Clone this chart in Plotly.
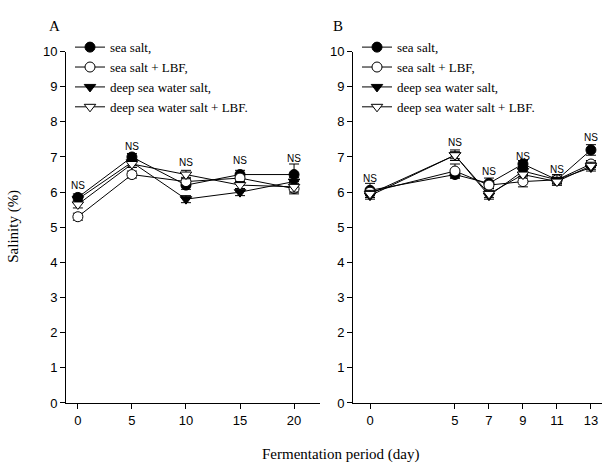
import plotly.graph_objects as go

# ---------------- data ----------------
days_a = [0, 5, 10, 15, 20]
days_b = [0, 5, 7, 9, 11, 13]
series_names = ["sea salt,", "sea salt + LBF,", "deep sea water salt,", "deep sea water salt + LBF."]

a_sea = [5.85, 7.0, 6.2, 6.5, 6.5]
a_sea_lbf = [5.3, 6.5, 6.3, 6.4, 6.1]
a_deep = [5.8, 6.85, 5.8, 6.0, 6.3]
a_deep_lbf = [5.65, 6.8, 6.5, 6.2, 6.15]
a_err_sea = [0.1, 0.1, 0.12, 0.12, 0.3]
a_err_sea_lbf = [0.1, 0.1, 0.12, 0.12, 0.15]
a_err_deep = [0.1, 0.1, 0.1, 0.1, 0.12]
a_err_deep_lbf = [0.1, 0.1, 0.12, 0.1, 0.15]

b_sea = [6.05, 6.5, 6.25, 6.8, 6.35, 7.2]
b_sea_lbf = [6.0, 6.6, 6.2, 6.3, 6.35, 6.8]
b_deep = [5.9, 7.05, 5.9, 6.6, 6.35, 6.7]
b_deep_lbf = [5.95, 7.05, 5.95, 6.5, 6.3, 6.75]
b_err_sea = [0.2, 0.1, 0.15, 0.1, 0.1, 0.15]
b_err_sea_lbf = [0.1, 0.2, 0.1, 0.15, 0.1, 0.1]
b_err_deep = [0.1, 0.1, 0.1, 0.1, 0.15, 0.1]
b_err_deep_lbf = [0.1, 0.15, 0.1, 0.1, 0.1, 0.1]

ns_a_y = [6.2, 7.3, 6.85, 6.9, 6.95]
ns_b_y = [6.4, 7.4, 6.6, 7.0, 6.65, 7.55]

y_ticks = list(range(0, 11))
a_ticks = [0, 5, 10, 15, 20]
b_ticks = [0, 5, 7, 9, 11, 13]

symbols = ["circle", "circle-open", "triangle-down", "triangle-down-open"]

fig = go.Figure()

def add_series(x, ys, errs, xa, ya, legend):
    for name, y, e, sym in zip(series_names, ys, errs, symbols):
        fill = "black" if "open" not in sym else "white"
        fig.add_trace(go.Scatter(
            x=x, y=y, name=name, mode="lines+markers",
            xaxis=xa, yaxis=ya, legend=legend,
            line=dict(color="black", width=1),
            marker=dict(symbol=sym.replace("-open", ""), size=10, color=fill,
                        line=dict(color="black", width=1)),
            error_y=dict(type="data", array=e, color="black", thickness=1, width=5),
            cliponaxis=False,
        ))

add_series(days_a, [a_sea, a_sea_lbf, a_deep, a_deep_lbf],
           [a_err_sea, a_err_sea_lbf, a_err_deep, a_err_deep_lbf], "x", "y", "legend")
add_series(days_b, [b_sea, b_sea_lbf, b_deep, b_deep_lbf],
           [b_err_sea, b_err_sea_lbf, b_err_deep, b_err_deep_lbf], "x2", "y2", "legend2")

ann = []
for d, v in zip(days_a, ns_a_y):
    ann.append(dict(x=d, y=v, xref="x", yref="y", text="NS", showarrow=False,
                    font=dict(family="Liberation Sans, Arial", size=10, color="black")))
for d, v in zip(days_b, ns_b_y):
    ann.append(dict(x=d, y=v, xref="x2", yref="y2", text="NS", showarrow=False,
                    font=dict(family="Liberation Sans, Arial", size=10, color="black")))

serif = "Liberation Serif, Times New Roman, serif"
ann += [
    dict(x=14 / 604, y=1 - 227 / 472, xref="paper", yref="paper", text="Salinity (%)",
         textangle=-90, showarrow=False, xanchor="center", yanchor="middle",
         font=dict(family=serif, size=15, color="black")),
    dict(x=340 / 604, y=1 - 462 / 472, xref="paper", yref="paper", text="Fermentation period (day)",
         showarrow=False, xanchor="center", yanchor="middle",
         font=dict(family=serif, size=15, color="black")),
    dict(x=55 / 604, y=1 - 20 / 472, xref="paper", yref="paper", text="A",
         showarrow=False, xanchor="center", yanchor="middle",
         font=dict(family=serif, size=15, color="black")),
    dict(x=338 / 604, y=1 - 20 / 472, xref="paper", yref="paper", text="B",
         showarrow=False, xanchor="center", yanchor="middle",
         font=dict(family=serif, size=15, color="black")),
]

tickfont = dict(family="Liberation Sans, Arial", size=13, color="black")
ydom = [1 - 409 / 472, 1 - 46 / 472]
axis_common = dict(showline=True, linecolor="black", linewidth=1, ticks="outside",
                   ticklen=5, tickcolor="black", showgrid=False, zeroline=False,
                   tickfont=tickfont)

legend_style = dict(font=dict(family=serif, size=13, color="black"),
                    bgcolor="rgba(0,0,0,0)", borderwidth=0, tracegroupgap=0,
                    itemwidth=30, xanchor="left", yanchor="top")

fig.update_layout(
    width=604, height=472,
    margin=dict(l=0, r=0, t=0, b=0),
    plot_bgcolor="white", paper_bgcolor="white",
    showlegend=True,
    xaxis=dict(domain=[66 / 604, 320 / 604], range=[-1.1, 22.4], tickvals=a_ticks,
               anchor="y", **axis_common),
    yaxis=dict(domain=ydom, range=[0, 10], tickvals=y_ticks, anchor="x", **axis_common),
    xaxis2=dict(domain=[353 / 604, 602 / 604], range=[-1.0, 13.65], tickvals=b_ticks,
                anchor="y2", **axis_common),
    yaxis2=dict(domain=ydom, range=[0, 10], tickvals=y_ticks, anchor="x2", **axis_common),
    legend=dict(x=70 / 604, y=1 - 26 / 472, **legend_style),
    legend2=dict(x=357 / 604, y=1 - 26 / 472, **legend_style),
    annotations=ann,
)

fig.write_html("out.html")
